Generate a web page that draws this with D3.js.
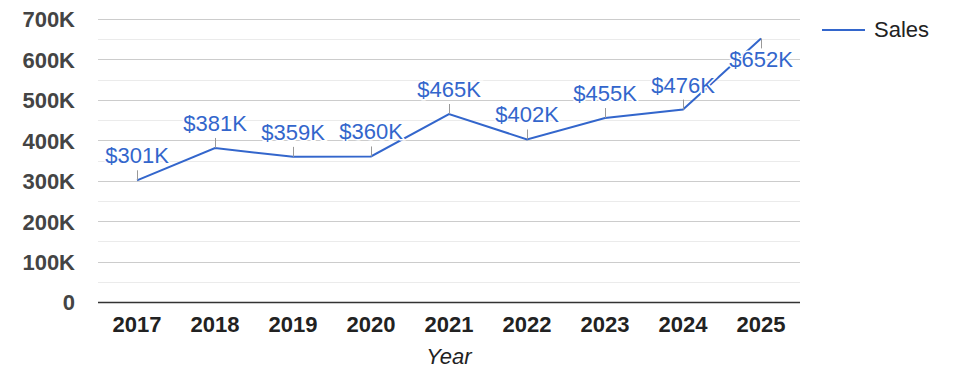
<!DOCTYPE html>
<html>
<head>
<meta charset="utf-8">
<script src="https://cdn.jsdelivr.net/npm/d3@7"></script>
<style>
  body { margin: 0; background: #fff; }
  svg { display: block; font-family: Arial, "Liberation Sans", sans-serif; }
</style>
</head>
<body>
<div id="chart"></div>
<script>
// data
const years = ["2017", "2018", "2019", "2020", "2021", "2022", "2023", "2024", "2025"];
const sales = [301, 381, 359, 360, 465, 402, 455, 476, 652]; // thousands
const yTicks = [0, 100, 200, 300, 400, 500, 600, 700];
const seriesName = "Sales";
const xTitle = "Year";

const width = 975,
  height = 378,
  marginLeft = 98,
  marginRight = 175,
  marginTop = 19,
  marginBottom = 76;

const lineColor = "#3366cc";
const fontSize = 22;

const svg = d3
  .select("#chart")
  .append("svg")
  .attr("width", width)
  .attr("height", height)
  .attr("viewBox", [0, 0, width, height]);

const x = d3
  .scaleBand(years, [marginLeft, width - marginRight])
  .paddingInner(0)
  .paddingOuter(0);
const y = d3.scaleLinear([0, 700], [height - marginBottom, marginTop]);

const cx = (i) => x(years[i]) + x.bandwidth() / 2;

// minor gridlines
svg
  .append("g")
  .selectAll("line")
  .data(yTicks.slice(0, -1).map((t) => t + 50))
  .join("line")
  .attr("x1", marginLeft)
  .attr("x2", width - marginRight)
  .attr("y1", (d) => Math.round(y(d)) + 0.5)
  .attr("y2", (d) => Math.round(y(d)) + 0.5)
  .attr("stroke", "#ebebeb");

// major gridlines
svg
  .append("g")
  .selectAll("line")
  .data(yTicks.slice(1))
  .join("line")
  .attr("x1", marginLeft)
  .attr("x2", width - marginRight)
  .attr("y1", (d) => Math.round(y(d)) + 0.5)
  .attr("y2", (d) => Math.round(y(d)) + 0.5)
  .attr("stroke", "#cccccc");

// y axis labels
const yAxis = d3
  .axisLeft(y)
  .tickValues(yTicks)
  .tickSize(0)
  .tickPadding(0)
  .tickFormat((d) => (d === 0 ? "0" : d + "K"));

svg
  .append("g")
  .attr("transform", `translate(${marginLeft - 23},0)`)
  .call(yAxis)
  .call((g) => g.select(".domain").remove())
  .call((g) =>
    g
      .selectAll(".tick text")
      .attr("font-size", fontSize)
      .attr("font-weight", "bold")
      .attr("font-family", "Arial, 'Liberation Sans', sans-serif")
      .attr("fill", "#444444")
      .attr("dy", "0.36em")
  );

// baseline
svg
  .append("line")
  .attr("x1", marginLeft)
  .attr("x2", width - marginRight)
  .attr("y1", Math.round(y(0)) + 0.5)
  .attr("y2", Math.round(y(0)) + 0.5)
  .attr("stroke", "#333333")
  .attr("stroke-width", 1.5);

// x axis labels
const xAxis = d3.axisBottom(x).tickSize(0).tickPadding(0);
svg
  .append("g")
  .attr("transform", `translate(0,${y(0) + 29.5})`)
  .call(xAxis)
  .call((g) => g.select(".domain").remove())
  .call((g) =>
    g
      .selectAll(".tick text")
      .attr("font-size", fontSize)
      .attr("font-weight", "bold")
      .attr("font-family", "Arial, 'Liberation Sans', sans-serif")
      .attr("fill", "#222222")
      .attr("dy", 0)
  );

// x title
svg
  .append("text")
  .attr("x", (marginLeft + width - marginRight) / 2)
  .attr("y", 363.5)
  .attr("text-anchor", "middle")
  .attr("font-size", fontSize)
  .attr("font-style", "italic")
  .attr("fill", "#222222")
  .text(xTitle);

// line
const line = d3
  .line()
  .x((d, i) => cx(i))
  .y((d) => y(d));

svg
  .append("path")
  .datum(sales)
  .attr("d", line)
  .attr("fill", "none")
  .attr("stroke", lineColor)
  .attr("stroke-width", 2);

// annotations: stems and labels (placed below when there is no room above)
const below = (d) => y(d) - marginTop < 40;

svg
  .append("g")
  .selectAll("line")
  .data(sales)
  .join("line")
  .attr("x1", (d, i) => Math.round(cx(i)) + 0.5)
  .attr("x2", (d, i) => Math.round(cx(i)) + 0.5)
  .attr("y1", (d) => y(d))
  .attr("y2", (d) => (below(d) ? y(d) + 10 : y(d) - 10))
  .attr("stroke", "#999999")
  .attr("stroke-width", 1);

svg
  .append("g")
  .selectAll("text")
  .data(sales)
  .join("text")
  .attr("x", (d, i) => cx(i))
  .attr("y", (d) => (below(d) ? y(d) + 29 : y(d) - 17))
  .attr("text-anchor", "middle")
  .attr("font-size", fontSize)
  .attr("fill", lineColor)
  .attr("stroke", "#ffffff")
  .attr("stroke-width", 3)
  .attr("paint-order", "stroke")
  .text((d) => "$" + d + "K");

// legend
const legend = svg.append("g").attr("transform", "translate(822,30)");
legend
  .append("line")
  .attr("x1", 0)
  .attr("x2", 43)
  .attr("stroke", lineColor)
  .attr("stroke-width", 2);
legend
  .append("text")
  .attr("x", 52)
  .attr("y", 7)
  .attr("font-size", fontSize)
  .attr("fill", "#222222")
  .text(seriesName);
</script>
</body>
</html>
